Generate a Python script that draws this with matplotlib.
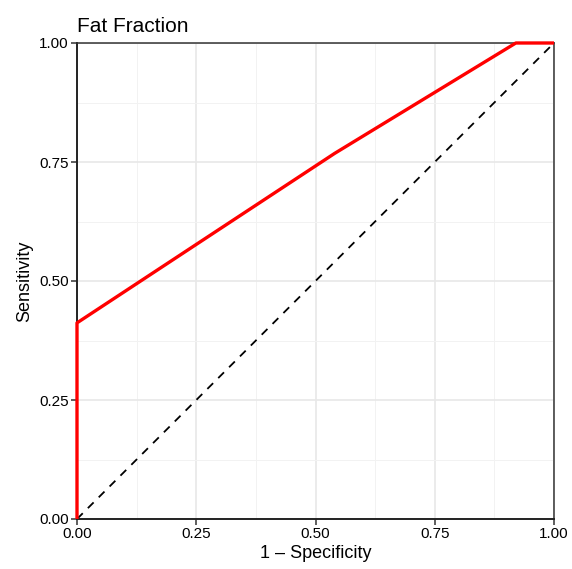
import matplotlib
matplotlib.use("Agg")
import matplotlib.pyplot as plt
from matplotlib.ticker import MultipleLocator

plt.rcParams['font.family'] = ['Liberation Sans', 'DejaVu Sans']

fpr = [0.0, 0.0, 0.54, 0.92, 1.0]
tpr = [0.0, 0.412, 0.768, 1.0, 1.0]
ticks = [0.0, 0.25, 0.5, 0.75, 1.0]
tick_labels = ["0.00", "0.25", "0.50", "0.75", "1.00"]

fig = plt.figure(figsize=(5.72, 5.69), dpi=100)
ax = fig.add_axes([77/572, 1-519/569, 477/572, 476/569])

ax.set_xlim(0, 1)
ax.set_ylim(0, 1)
ax.set_xticks(ticks)
ax.set_xticklabels(tick_labels)
ax.set_yticks(ticks)
ax.set_yticklabels(tick_labels)
ax.xaxis.set_minor_locator(MultipleLocator(0.125))
ax.yaxis.set_minor_locator(MultipleLocator(0.125))
ax.grid(which='major', color='#e8e8e8', linewidth=1.2)
ax.grid(which='minor', color='#f2f2f2', linewidth=0.7)
ax.tick_params(which='minor', length=0)
ax.tick_params(which='major', length=4, width=1.1, color='#333333', labelsize=11, labelcolor='black', pad=2)
ax.set_axisbelow(True)

ax.plot([0, 1], [0, 1], linestyle=(0, (4.5, 4)), color='black', linewidth=1.3, zorder=2)
ax.plot(fpr, tpr, color='#ff0000', linewidth=2.4, zorder=3, clip_on=False, solid_capstyle='butt')

for s in ['left', 'bottom']:
    ax.spines[s].set_color('#222222')
    ax.spines[s].set_linewidth(1.4)
for s in ['top', 'right']:
    ax.spines[s].set_color('#333333')
    ax.spines[s].set_linewidth(1.1)

ax.set_xlabel('1 \u2013 Specificity', fontsize=13, labelpad=3)
ax.set_ylabel('Sensitivity', fontsize=13, labelpad=4)
ax.set_title('Fat Fraction', fontsize=15, loc='left', x=-0.0, pad=8)

fig.savefig('out.png', dpi=100)
